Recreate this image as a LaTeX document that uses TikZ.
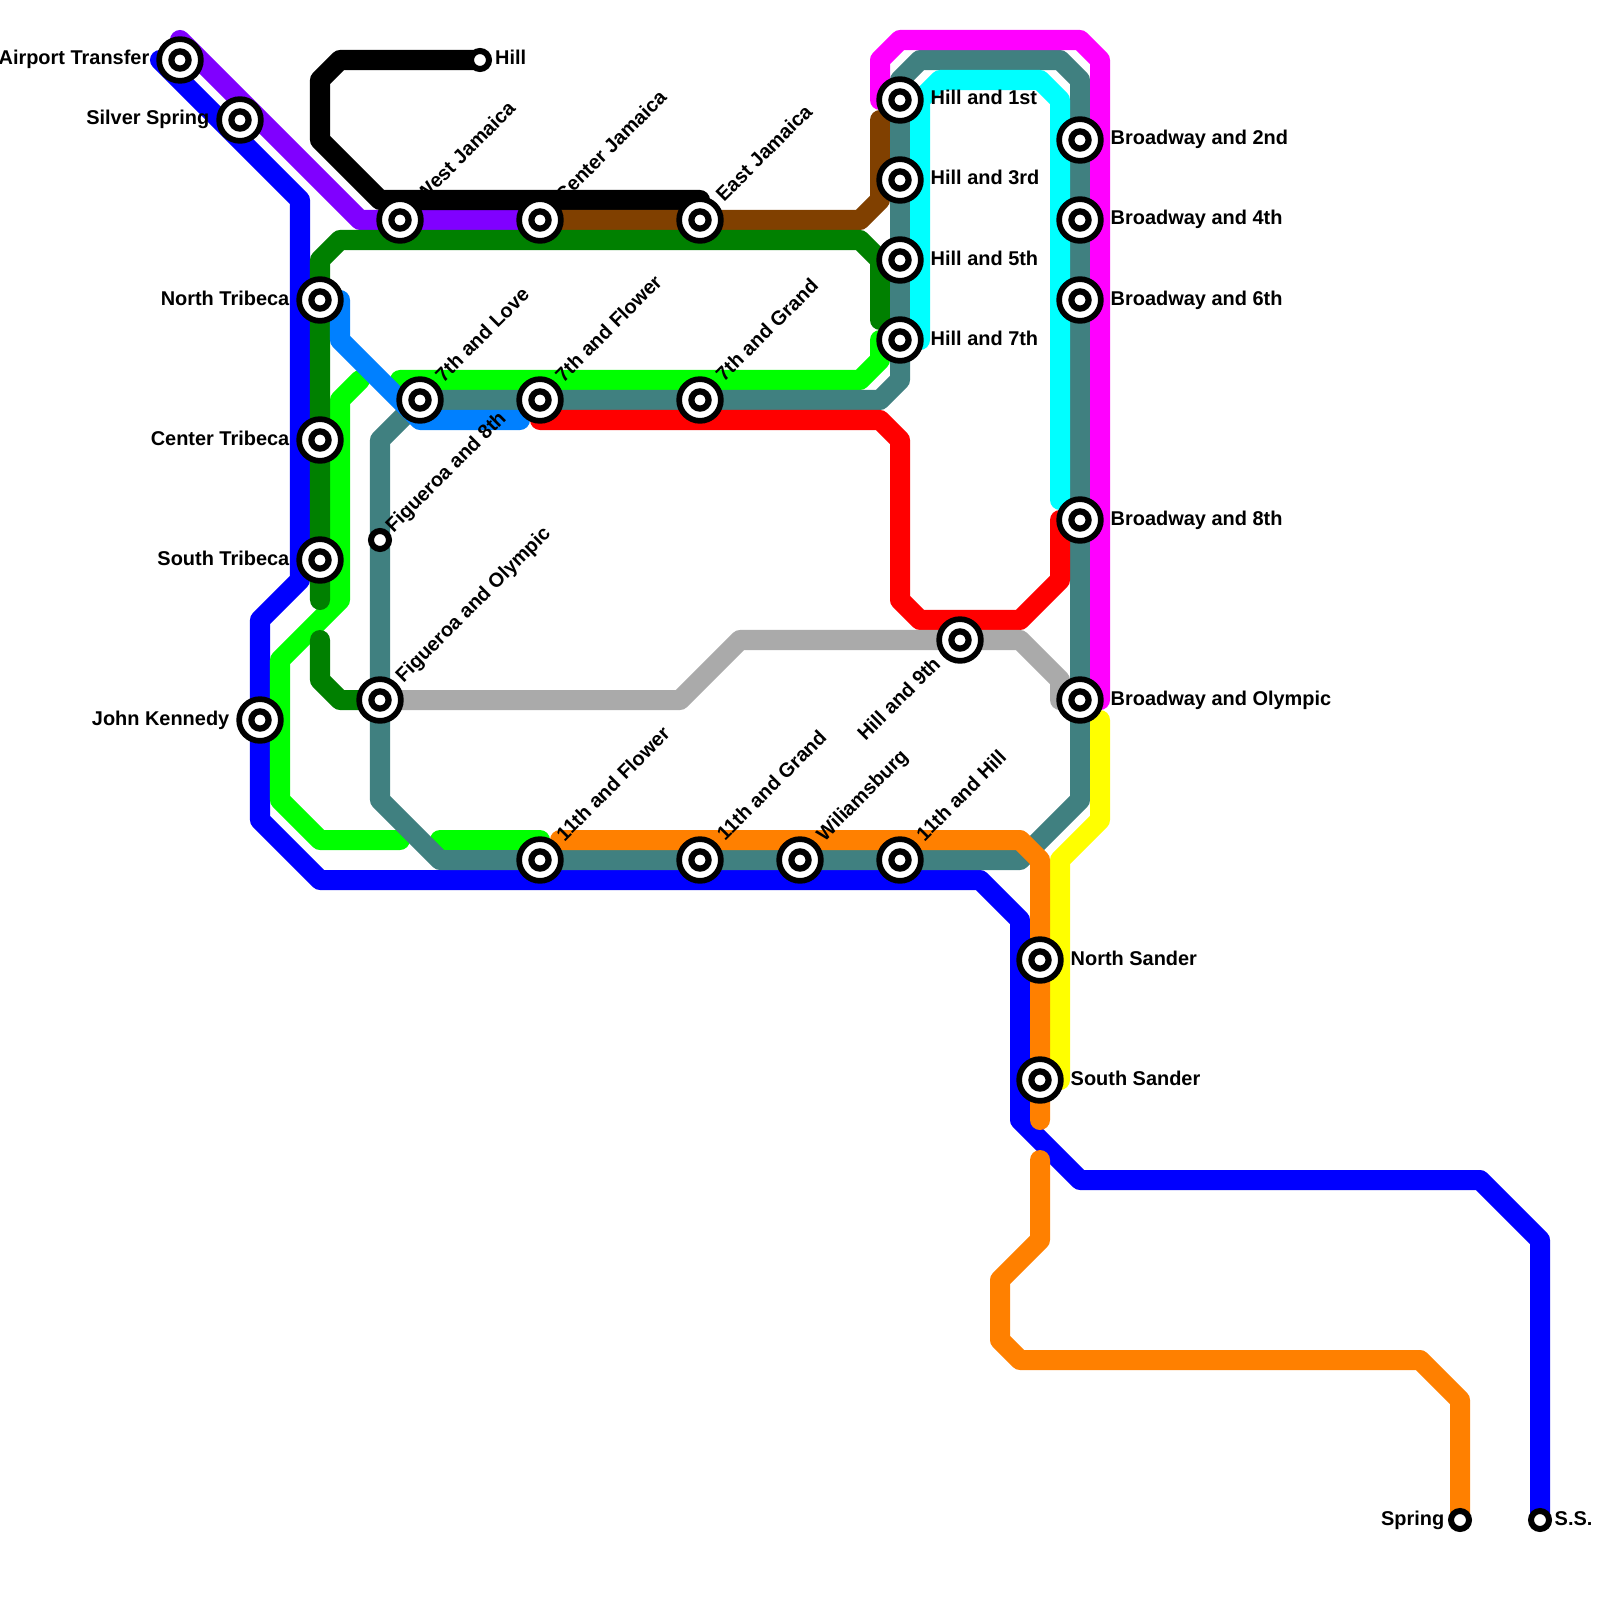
\documentclass[tikz,border=0pt]{standalone}
\usepackage{fontspec}
\setmainfont{Liberation Sans}
\definecolor{cBlue}{HTML}{0000FF}
\definecolor{cPurple}{HTML}{8000FF}
\definecolor{cBrown}{HTML}{804000}
\definecolor{cLime}{HTML}{00FF00}
\definecolor{cDark}{HTML}{008000}
\definecolor{cTeal}{HTML}{408080}
\definecolor{cAzure}{HTML}{0080FF}
\definecolor{cMagenta}{HTML}{FF00FF}
\definecolor{cCyan}{HTML}{00FFFF}
\definecolor{cRed}{HTML}{FF0000}
\definecolor{cGray}{HTML}{AAAAAA}
\definecolor{cYellow}{HTML}{FFFF00}
\definecolor{cOrange}{HTML}{FF8000}
\tikzset{
  route/.style={draw=#1,line width=0.2cm,line cap=round,line join=round},
  bigstn/.style={circle,draw=black,fill=white,line width=0.057cm,minimum size=0.417cm,inner sep=0pt,
    path picture={\draw[black,line width=0.062cm] (path picture bounding box.center) circle (0.086cm);}},
  smallstn/.style={circle,draw=black,fill=white,line width=0.06cm,minimum size=0.18cm,inner sep=0pt},
  lab/.style={font=\fontsize{5.67pt}{6.5pt}\selectfont\bfseries,text=black,inner sep=0pt},
  labr/.style={lab,anchor=base west},
  labl/.style={lab,anchor=base east},
  labd/.style={lab,anchor=base west,rotate=45},
  labe/.style={lab,anchor=base east,rotate=45}
}
\begin{document}
\begin{tikzpicture}[x=0.01cm,y=-0.01cm]
\useasboundingbox (0,0) rectangle (1600,1600);
\fill[white] (0,0) rectangle (1600,1600);
% station positions
\coordinate (pAT) at (180,60);
\coordinate (pSS) at (240,120);
\coordinate (pHill) at (480,60);
\coordinate (pWJ) at (400,220);
\coordinate (pCJ) at (540,220);
\coordinate (pEJ) at (700,220);
\coordinate (pNT) at (320,300);
\coordinate (pCT) at (320,440);
\coordinate (pST) at (320,560);
\coordinate (pJK) at (260,720);
\coordinate (p7L) at (420,400);
\coordinate (p7F) at (540,400);
\coordinate (p7G) at (700,400);
\coordinate (pF8) at (380,540);
\coordinate (pFO) at (380,700);
\coordinate (pH1) at (900,100);
\coordinate (pH3) at (900,180);
\coordinate (pH5) at (900,260);
\coordinate (pH7) at (900,340);
\coordinate (pB2) at (1080,140);
\coordinate (pB4) at (1080,220);
\coordinate (pB6) at (1080,300);
\coordinate (pB8) at (1080,520);
\coordinate (pBO) at (1080,700);
\coordinate (pH9) at (960,640);
\coordinate (p11F) at (540,860);
\coordinate (p11G) at (700,860);
\coordinate (pWil) at (800,860);
\coordinate (p11H) at (900,860);
\coordinate (pNS) at (1040,960);
\coordinate (pSoS) at (1040,1080);
\coordinate (pSpr) at (1460,1520);
\coordinate (pSSe) at (1540,1520);
% routes
\draw[route=cBlue] (160,60) -- (300,200) -- (300,580) -- (260,620) -- (260,820) -- (320,880) -- (980,880) -- (1020,920) -- (1020,1120) -- (1080,1180) -- (1480,1180) -- (1540,1240) -- (pSSe);
\draw[route=cPurple] (180,40) -- (360,220) -- (pCJ);
\draw[route=black] (pHill) -- (340,60) -- (320,80) -- (320,140) -- (380,200) -- (700,200);
\draw[route=cBrown] (pCJ) -- (860,220) -- (880,200) -- (880,120);
\draw[route=cLime] (400,380) -- (860,380) -- (880,360) -- (880,340);
\draw[route=cLime] (360,380) -- (340,400) -- (340,600) -- (280,660) -- (280,800) -- (320,840) -- (400,840);
\draw[route=cLime] (440,840) -- (540,840);
\draw[route=cDark] (880,320) -- (880,260) -- (860,240) -- (340,240) -- (320,260) -- (320,600);
\draw[route=cDark] (320,640) -- (320,680) -- (340,700) -- (pFO);
\draw[route=cTeal] (900,80) -- (920,60) -- (1060,60) -- (1080,80) -- (1080,800) -- (1020,860) -- (440,860) -- (380,800) -- (380,440) -- (420,400) -- (880,400) -- (900,380) -- cycle;
\draw[route=cAzure] (340,300) -- (340,340) -- (420,420) -- (520,420);
\draw[route=cMagenta] (880,100) -- (880,60) -- (900,40) -- (1080,40) -- (1100,60) -- (1100,700);
\draw[route=cCyan] (920,340) -- (920,100) -- (940,80) -- (1040,80) -- (1060,100) -- (1060,500);
\draw[route=cRed] (540,420) -- (880,420) -- (900,440) -- (900,600) -- (920,620) -- (1020,620) -- (1060,580) -- (1060,520);
\draw[route=cGray] (pFO) -- (680,700) -- (740,640) -- (1020,640) -- (1060,680) -- (1060,700) -- (pBO);
\draw[route=cYellow] (1100,720) -- (1100,820) -- (1060,860) -- (1060,1080);
\draw[route=cOrange] (560,840) -- (1020,840) -- (1040,860) -- (1040,1120);
\draw[route=cOrange] (1040,1160) -- (1040,1240) -- (1000,1280) -- (1000,1340) -- (1020,1360) -- (1420,1360) -- (1460,1400) -- (pSpr);
% stations
\node[bigstn] (AT) at (pAT) {};
\node[bigstn] (SS) at (pSS) {};
\node[smallstn] (Hill) at (pHill) {};
\node[bigstn] (WJ) at (pWJ) {};
\node[bigstn] (CJ) at (pCJ) {};
\node[bigstn] (EJ) at (pEJ) {};
\node[bigstn] (NT) at (pNT) {};
\node[bigstn] (CT) at (pCT) {};
\node[bigstn] (ST) at (pST) {};
\node[bigstn] (JK) at (pJK) {};
\node[bigstn] (SevL) at (p7L) {};
\node[bigstn] (SevF) at (p7F) {};
\node[bigstn] (SevG) at (p7G) {};
\node[smallstn] (FE) at (pF8) {};
\node[bigstn] (FO) at (pFO) {};
\node[bigstn] (HA) at (pH1) {};
\node[bigstn] (HC) at (pH3) {};
\node[bigstn] (HE) at (pH5) {};
\node[bigstn] (HG) at (pH7) {};
\node[bigstn] (BB) at (pB2) {};
\node[bigstn] (BD) at (pB4) {};
\node[bigstn] (BF) at (pB6) {};
\node[bigstn] (BH) at (pB8) {};
\node[bigstn] (BO) at (pBO) {};
\node[bigstn] (HI) at (pH9) {};
\node[bigstn] (ElF) at (p11F) {};
\node[bigstn] (ElG) at (p11G) {};
\node[bigstn] (Wil) at (pWil) {};
\node[bigstn] (ElH) at (p11H) {};
\node[bigstn] (NS) at (pNS) {};
\node[bigstn] (SoS) at (pSoS) {};
\node[smallstn] (Spr) at (pSpr) {};
\node[smallstn] (SSe) at (pSSe) {};
% labels
\node[labl] (lAT) at (150,65) {Airport Transfer};
\node[labl] (lSS) at (210,125) {Silver Spring};
\node[labr] (lHill) at (494.5,65) {Hill};
\node[labd] (lWJ) at (423,203.5) {West Jamaica};
\node[labd] (lCJ) at (563,203.5) {Center Jamaica};
\node[labd] (lEJ) at (723.5,203) {East Jamaica};
\node[labl] (lNT) at (290,305) {North Tribeca};
\node[labl] (lCT) at (290,445) {Center Tribeca};
\node[labl] (lST) at (290,565) {South Tribeca};
\node[labl] (lJK) at (230,725) {John Kennedy};
\node[labd] (l7L) at (443,383.5) {7th and Love};
\node[labd] (l7F) at (563,383.5) {7th and Flower};
\node[labd] (l7G) at (723.5,383) {7th and Grand};
\node[labd] (lFE) at (393,533.5) {Figueroa and 8th};
\node[labd] (lFO) at (403,683.5) {Figueroa and Olympic};
\node[labr] (lH1) at (930,105) {Hill and 1st};
\node[labr] (lH3) at (930,185) {Hill and 3rd};
\node[labr] (lH5) at (930,265) {Hill and 5th};
\node[labr] (lH7) at (930,345) {Hill and 7th};
\node[labr] (lB2) at (1110,145) {Broadway and 2nd};
\node[labr] (lB4) at (1110,225) {Broadway and 4th};
\node[labr] (lB6) at (1110,305) {Broadway and 6th};
\node[labr] (lB8) at (1110,525) {Broadway and 8th};
\node[labr] (lBO) at (1110,705) {Broadway and Olympic};
\node[labe] (lH9) at (942,665) {Hill and 9th};
\node[labd] (l11F) at (564,842.5) {11th and Flower};
\node[labd] (l11G) at (724.5,842) {11th and Grand};
\node[labd] (lWil) at (824,842.5) {Wiliamsburg};
\node[labd] (l11H) at (924,842.5) {11th and Hill};
\node[labr] (lNS) at (1070,965) {North Sander};
\node[labr] (lSoS) at (1070,1085) {South Sander};
\node[labl] (lSpr) at (1445,1525) {Spring};
\node[labr] (lSSe) at (1554,1525) {S.S.};
\end{tikzpicture}
\end{document}
